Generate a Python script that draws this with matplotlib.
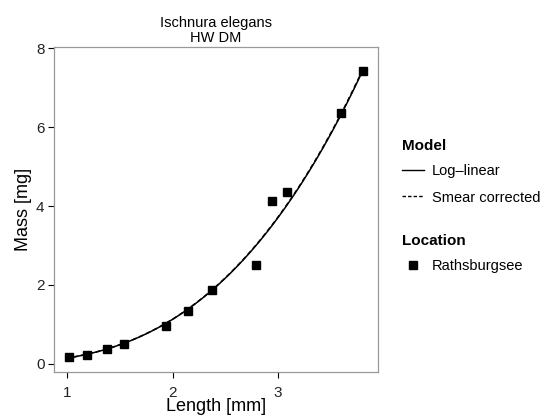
import numpy as np
import matplotlib.pyplot as plt
from matplotlib.lines import Line2D

plt.rcParams['font.family'] = ['Liberation Sans', 'DejaVu Sans']

# Data (Ischnura elegans, HW DM, Rathsburgsee)
length_mm = [1.016, 1.184, 1.374, 1.539, 1.935, 2.150, 2.372, 2.790, 2.949, 3.091, 3.598, 3.807]
mass_mg = [0.177, 0.228, 0.370, 0.515, 0.963, 1.343, 1.884, 2.517, 4.120, 4.350, 6.344, 7.425]

x_ticks = [1, 2, 3]
y_ticks = [0, 2, 4, 6, 8]

L = np.array(length_mm)
M = np.array(mass_mg)

# log-linear model fitted to the points, plus smearing correction
b, a = np.polyfit(np.log(L), np.log(M), 1)
resid = np.log(M) - (a + b * np.log(L))
smear = np.mean(np.exp(resid))
xx = np.linspace(L.min() - 0.03, L.max() + 0.01, 200)
fit = np.exp(a + b * np.log(xx))

fig = plt.figure(figsize=(5.54, 4.19), dpi=100)
ax = fig.add_axes([0.098, 0.113, 0.584, 0.776])

ax.plot(xx, fit * smear, color='k', lw=1.1, ls=(0, (3, 2)))
ax.plot(xx, fit, color='k', lw=1.1)
ax.plot(L, M, 's', color='k', ms=6, mec='k')

ax.set_xlim(0.876, 3.95)
ax.set_ylim(-0.195, 8.04)
ax.set_xticks(x_ticks)
ax.set_yticks(y_ticks)
ax.tick_params(direction='out', length=4, width=0.8, color='k', labelsize=11, labelcolor='#222222')
ax.tick_params(axis='x', pad=6)
ax.tick_params(axis='y', pad=3)
for s in ax.spines.values():
    s.set_color('#999999')
    s.set_linewidth(0.9)

ax.set_xlabel('Length [mm]', fontsize=13, labelpad=-1)
ax.set_ylabel('Mass [mg]', fontsize=13, labelpad=3)
ax.set_title('Ischnura elegans\nHW DM', fontsize=10.5, linespacing=1.1, pad=3)

model_handles = [Line2D([], [], color='k', lw=1.0),
                 Line2D([], [], color='k', lw=1.0, ls=(0, (2.5, 1.5)))]
leg1 = fig.legend(model_handles, ['Log\u2013linear', 'Smear corrected'], title='Model',
                  loc='upper left', bbox_to_anchor=(0.716, 0.682), frameon=False,
                  fontsize=10.5, alignment='left', handlelength=1.5, handletextpad=0.5,
                  labelspacing=0.85, borderaxespad=0,
                  title_fontproperties={'weight': 'bold', 'size': 11})
loc_handles = [Line2D([], [], marker='s', color='k', ls='none', ms=5.5)]
leg2 = fig.legend(loc_handles, ['Rathsburgsee'], title='Location',
                  loc='upper left', bbox_to_anchor=(0.716, 0.455), frameon=False,
                  fontsize=10.5, alignment='left', handlelength=1.5, handletextpad=0.5,
                  borderaxespad=0,
                  title_fontproperties={'weight': 'bold', 'size': 11})
for leg in (leg1, leg2):
    leg._legend_box.sep = 8

fig.savefig('out.png', dpi=100)
